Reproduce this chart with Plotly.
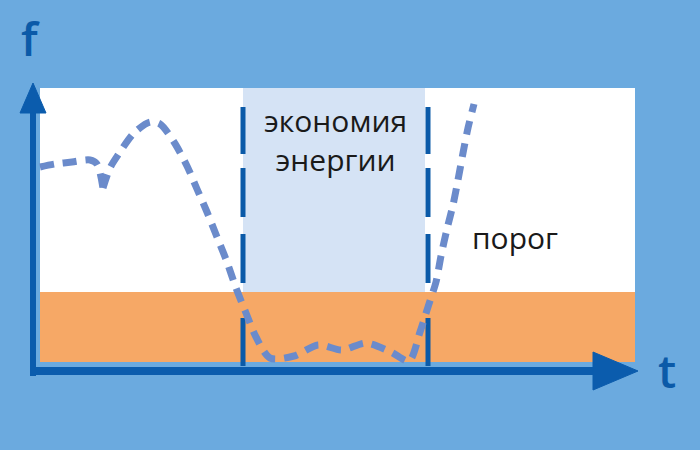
import plotly.graph_objects as go

# ---- data (t = horizontal units, f = vertical units, origin bottom-left) ----
curve_a_t = [40, 55, 72, 90, 97, 103]
curve_a_f = [283, 286, 288, 290, 286, 262]
curve_b_t = [103, 110, 118, 134, 150, 160, 174, 187, 197, 207, 217, 227, 236, 246, 256, 270,
             294, 318, 342, 366, 391, 409, 420, 428, 436, 441, 447, 453, 458, 463, 468, 474]
curve_b_f = [262, 282, 295, 317, 328, 326, 308, 284, 261, 238, 213, 188, 162, 137, 113, 92,
             94, 105, 100, 107, 98, 89, 118, 143, 168, 194, 221, 245, 270, 297, 322, 346]

# zones
plot_t = [40, 635]
zone_top_f = 362
threshold_f = 158
zone_bottom_f = 88
saving_t = [243, 425]

# dashed boundaries of the saving interval
boundary_t = [243, 428]
boundary_segments_f = [(343, 296), (282, 233), (216, 167), (132, 84)]

# axes
f_axis_t = 33
f_axis_f = [74, 340]
f_head = dict(tip=367, base=337, half=13)
t_axis_f = 79
t_axis_t = [30, 600]
t_head = dict(tip=638, base=593, half=19)

labels = ["экономия<br>энергии", "порог", "f", "t"]

BG = "#6BAADF"
AX = "#0B5CAD"
CURVE = "#6B8BCB"

fig = go.Figure()

shapes = [
    dict(type="rect", x0=plot_t[0], x1=plot_t[1], y0=threshold_f, y1=zone_top_f,
         fillcolor="white", line_width=0, layer="below"),
    dict(type="rect", x0=plot_t[0], x1=plot_t[1], y0=zone_bottom_f, y1=threshold_f,
         fillcolor="#F6A866", line_width=0, layer="below"),
    dict(type="rect", x0=saving_t[0], x1=saving_t[1], y0=threshold_f, y1=zone_top_f,
         fillcolor="#D5E3F5", line_width=0, layer="below"),
]
fig.update_layout(shapes=shapes)

# boundaries
for bt in boundary_t:
    xs, ys = [], []
    for a, b in boundary_segments_f:
        xs += [bt, bt, None]
        ys += [a, b, None]
    fig.add_trace(go.Scatter(x=xs, y=ys, mode="lines",
                             line=dict(color="#0B5AA8", width=5), hoverinfo="skip"))

# curve
for xs, ys in [(curve_a_t, curve_a_f), (curve_b_t, curve_b_f)]:
    fig.add_trace(go.Scatter(x=xs, y=ys, mode="lines",
                             line=dict(color=CURVE, width=7, dash="14px,9px",
                                       shape="spline", smoothing=0.8),
                             hoverinfo="skip"))

# axes lines
fig.add_trace(go.Scatter(x=[f_axis_t, f_axis_t], y=f_axis_f, mode="lines",
                         line=dict(color=AX, width=6), hoverinfo="skip"))
fig.add_trace(go.Scatter(x=t_axis_t, y=[t_axis_f, t_axis_f], mode="lines",
                         line=dict(color=AX, width=8), hoverinfo="skip"))
# arrowheads
fig.add_trace(go.Scatter(
    x=[f_axis_t, f_axis_t - f_head["half"], f_axis_t + f_head["half"], f_axis_t],
    y=[f_head["tip"], f_head["base"], f_head["base"], f_head["tip"]],
    mode="lines", fill="toself", fillcolor=AX, line=dict(color=AX, width=1), hoverinfo="skip"))
fig.add_trace(go.Scatter(
    x=[t_head["tip"], t_head["base"], t_head["base"], t_head["tip"]],
    y=[t_axis_f, t_axis_f + t_head["half"], t_axis_f - t_head["half"], t_axis_f],
    mode="lines", fill="toself", fillcolor=AX, line=dict(color=AX, width=1), hoverinfo="skip"))

# texts
txt_font = dict(family="Open Sans", size=30, color="#1A1A1A")
fig.add_annotation(x=335, y=310, text=labels[0], showarrow=False, font=txt_font,
                   align="center")
fig.add_annotation(x=515, y=213, text=labels[1], showarrow=False, font=txt_font)
ax_font = dict(family="Open Sans", size=46, color="#0B5AA8", weight=600)
fig.add_annotation(x=30, y=412, text=labels[2], showarrow=False, font=ax_font)
fig.add_annotation(x=667, y=80, text=labels[3], showarrow=False, font=ax_font)

fig.update_layout(
    width=700, height=450,
    margin=dict(l=0, r=0, t=0, b=0),
    paper_bgcolor=BG, plot_bgcolor=BG,
    showlegend=False,
    xaxis=dict(range=[0, 700], visible=False, fixedrange=True),
    yaxis=dict(range=[0, 450], visible=False, fixedrange=True),
)

fig.write_html("out.html", config={"displayModeBar": False},
               post_script="document.body.style.margin='0';document.body.style.background='%s';" % BG)
